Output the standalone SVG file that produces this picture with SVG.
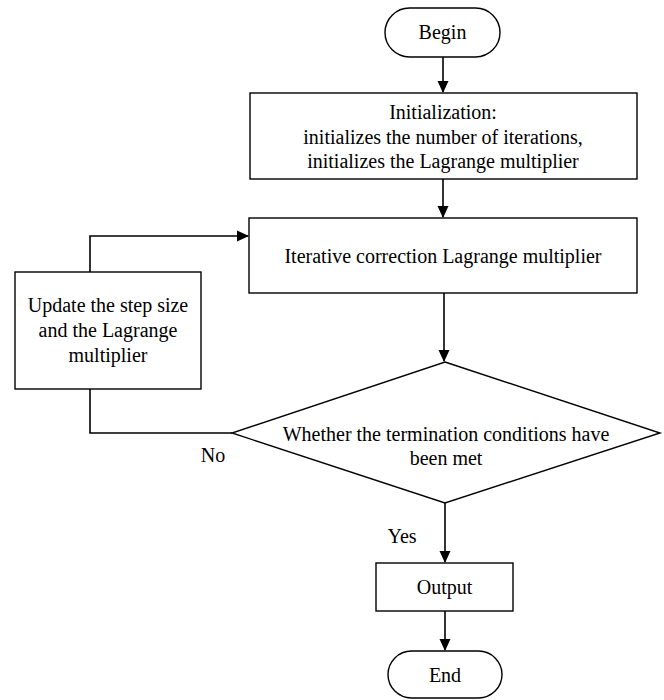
<svg xmlns="http://www.w3.org/2000/svg" width="664" height="700" viewBox="0 0 664 700">
<style>
.box{fill:#fff;stroke:#000;stroke-width:1.4}
.t{font-family:"Liberation Serif","Times New Roman",serif;font-size:20px;fill:#000;text-anchor:middle}
.c{fill:none;stroke:#000;stroke-width:1.6}
</style>
<defs>
<marker id="ah" markerWidth="12" markerHeight="12" refX="11" refY="5.5" orient="auto" markerUnits="userSpaceOnUse" viewBox="0 0 12 11">
<path d="M0,0 L12,5.5 L0,11 Z" fill="#000"/>
</marker>
</defs>
<rect width="664" height="700" fill="#fff"/>
<g id="connectors">
<line class="c" x1="443" y1="57" x2="443" y2="92" marker-end="url(#ah)"/>
<line class="c" x1="443" y1="179" x2="443" y2="217" marker-end="url(#ah)"/>
<line class="c" x1="444" y1="293" x2="444" y2="361" marker-end="url(#ah)"/>
<line class="c" x1="445" y1="503" x2="445" y2="562" marker-end="url(#ah)"/>
<line class="c" x1="445" y1="611" x2="445" y2="650" marker-end="url(#ah)"/>
<polyline class="c" points="90,272 90,236 248,236" marker-end="url(#ah)"/>
<polyline class="c" points="90,389 90,433 232,433"/>
</g>
<g id="begin">
<rect class="box" x="385" y="8" width="115" height="49" rx="24.5"/>
<text class="t" x="442.5" y="39">Begin</text>
</g>
<g id="init">
<rect class="box" x="250" y="93" width="387" height="86"/>
<text class="t" x="443" y="119">Initialization:</text>
<text class="t" x="443" y="144">initializes the number of iterations,</text>
<text class="t" x="443" y="168">initializes the Lagrange multiplier</text>
</g>
<g id="iterative">
<rect class="box" x="249" y="218" width="388" height="75"/>
<text class="t" x="443" y="263">Iterative correction Lagrange multiplier</text>
</g>
<g id="update">
<rect class="box" x="15" y="272" width="186" height="117"/>
<text class="t" x="108" y="312">Update the step size</text>
<text class="t" x="108" y="337">and the Lagrange</text>
<text class="t" x="108" y="362">multiplier</text>
</g>
<g id="decision">
<polygon class="box" points="445,362 660,433 445,503 232,433"/>
<text class="t" x="446" y="441">Whether the termination conditions have</text>
<text class="t" x="446" y="465">been met</text>
</g>
<g id="output">
<rect class="box" x="376" y="563" width="137" height="48"/>
<text class="t" x="444.5" y="594">Output</text>
</g>
<g id="end">
<rect class="box" x="388" y="651" width="114" height="47" rx="23.5"/>
<text class="t" x="445" y="682">End</text>
</g>
<text class="t" x="213" y="462">No</text>
<text class="t" x="402" y="543">Yes</text>
</svg>
